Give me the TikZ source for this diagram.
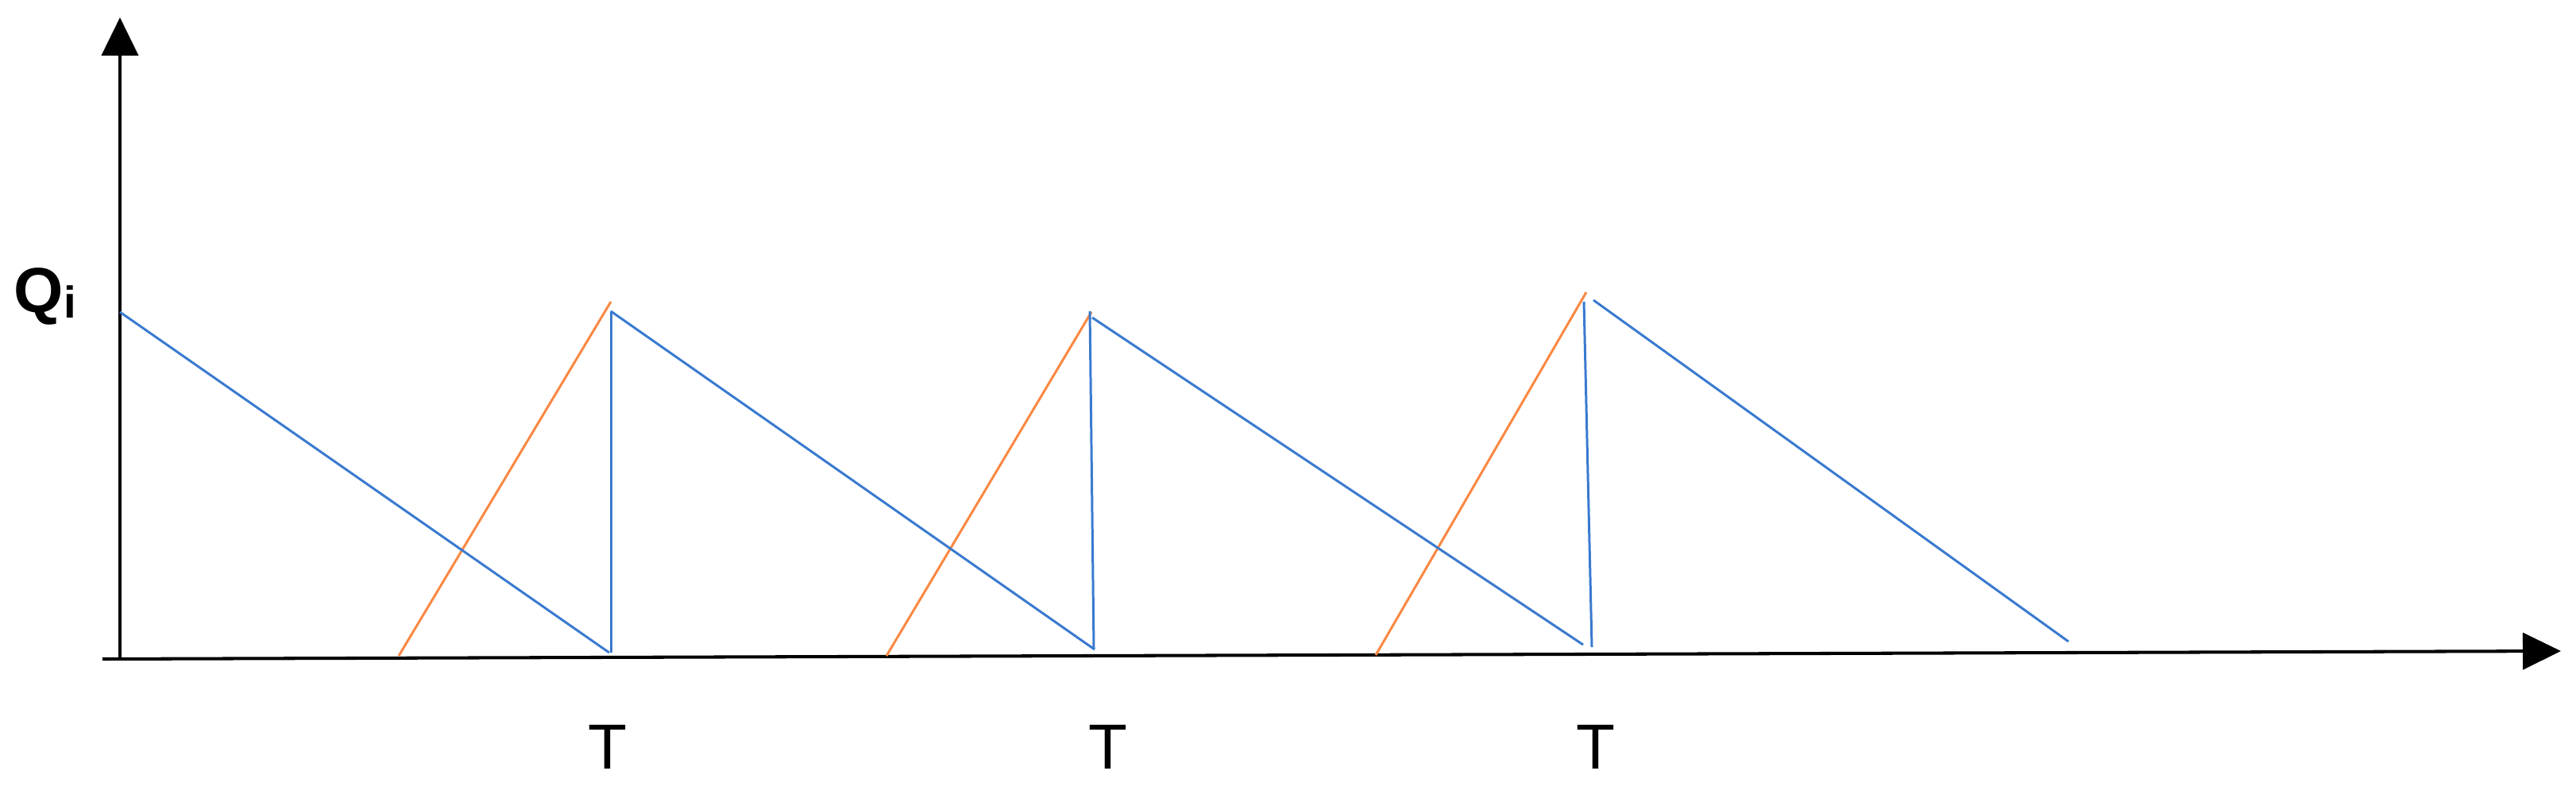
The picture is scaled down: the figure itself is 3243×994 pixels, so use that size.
\documentclass[tikz,border=0pt]{standalone}
\usepackage{fontspec}
\setmainfont{Liberation Sans}
\usetikzlibrary{arrows.meta}
\definecolor{lineblue}{RGB}{58,122,208}
\definecolor{lineorange}{RGB}{250,136,66}
\tikzset{
  axis/.style={draw=black, line width=1.15pt, -{Triangle[length=0.48cm, width=0.46cm]}},
  demand/.style={draw=lineblue, line width=0.85pt},
  supply/.style={draw=lineorange, line width=0.85pt},
  lbl/.style={inner sep=0pt, anchor=base, font=\fontsize{22.8}{27}\selectfont}
}
\begin{document}
\begin{tikzpicture}[x=0.01cm, y=-0.01cm]
\useasboundingbox (0,0) rectangle (3243,994);
% axes
\coordinate (o) at (151,830);
\coordinate (ytop) at (151,22);
\coordinate (xl) at (129,830);
\coordinate (xr) at (3224,820);
\draw[axis] (o) -- (ytop);
\draw[axis] (xl) -- (xr);
% key points
\coordinate (b0) at (151,393);
\coordinate (d1) at (767,822);
\coordinate (v1t) at (769,392);
\coordinate (v1b) at (769,822);
\coordinate (o1s) at (502,826);
\coordinate (o1p) at (769,380);
\coordinate (d2) at (1378,818);
\coordinate (o2s) at (1116,826);
\coordinate (o2p) at (1374,393);
\coordinate (v2t) at (1372,392);
\coordinate (v2b) at (1377,817);
\coordinate (b3) at (1375,400);
\coordinate (d3) at (1993,812);
\coordinate (o3s) at (1732,825);
\coordinate (o3p) at (1997,368);
\coordinate (v3t) at (1994,380);
\coordinate (v3b) at (2004,815);
\coordinate (b4) at (2006,378);
\coordinate (d4) at (2604,808);
% supply (orange)
\draw[supply] (o1s) -- (o1p);
\draw[supply] (o2s) -- (o2p);
\draw[supply] (o3s) -- (o3p);
% demand (blue)
\draw[demand] (b0) -- (d1);
\draw[demand] (v1b) -- (v1t);
\draw[demand] (v1t) -- (d2);
\draw[demand] (v2b) -- (v2t);
\draw[demand] (b3) -- (d3);
\draw[demand] (v3b) -- (v3t);
\draw[demand] (b4) -- (d4);
% labels
\node[lbl, anchor=base west] (qi) at (17,393) {\textbf{Q}\raisebox{-0.07cm}{\fontsize{16}{16}\selectfont\bfseries i}};
\node[lbl] (t1) at (765,968) {T};
\node[lbl] (t2) at (1395,968) {T};
\node[lbl] (t3) at (2009,968) {T};
\end{tikzpicture}
\end{document}
